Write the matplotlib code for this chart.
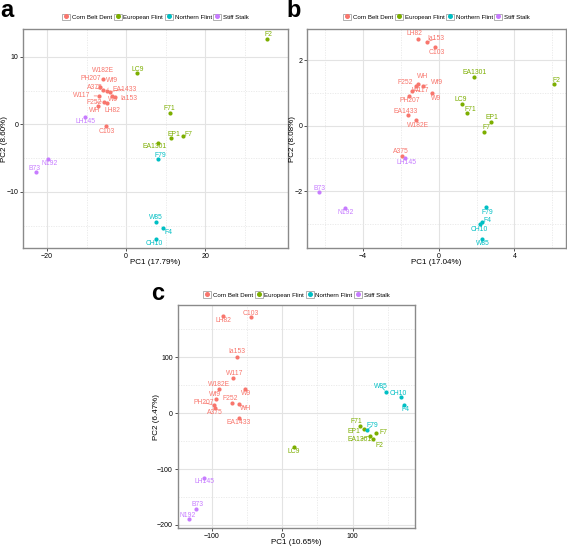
import matplotlib
matplotlib.use("Agg")
import matplotlib.pyplot as plt
from matplotlib.lines import Line2D
from matplotlib.patches import Patch
from matplotlib.ticker import FixedLocator, FuncFormatter
from matplotlib.transforms import blended_transform_factory

plt.rcParams['font.family'] = ['Liberation Sans', 'DejaVu Sans']

# ---------------- data ----------------
groups_order = ['Corn Belt Dent', 'European Flint', 'Northern Flint', 'Stiff Stalk']
colors = ['#F8766D', '#7CAE00', '#00BFC4', '#C77CFF']

names = ['A375', 'C103', 'EA1433', 'F252', 'Ia153', 'LH82', 'PH207', 'W117', 'W182E', 'Wf9', 'W9', 'WH',
         'EA1301', 'EP1', 'F2', 'F7', 'F71', 'LC9',
         'CH10', 'F4', 'F79', 'W85',
         'B73', 'LH145', 'N192']
groups = ['Corn Belt Dent'] * 12 + ['European Flint'] * 6 + ['Northern Flint'] * 4 + ['Stiff Stalk'] * 3

# panel a
a_x = [-5.9, -5.0, -4.0, -5.7, -2.8, -4.8, -6.5, -6.8, -5.9, -4.85, -3.6, -7.2,
       8.0, 11.5, 35.7, 14.3, 11.0, 2.8,
       7.5, 9.4, 8.2, 7.5,
       -22.8, -10.3, -19.8]
a_y = [5.1, -0.25, 4.85, 3.35, 4.1, 3.2, 5.5, 4.2, 6.7, 5.0, 4.25, 2.7,
       -2.7, -2.07, 12.56, -1.67, 1.67, 7.54,
       -16.9, -15.4, -5.1, -14.4,
       -7.0, 1.03, -5.07]
a_xlabel = 'PC1 (17.79%)'
a_ylabel = 'PC2 (8.60%)'

# panel b
b_x = [-1.93, -0.2, -1.6, -1.2, -0.63, -1.11, -1.55, -1.4, -1.2, -0.85, -0.37, -1.11,
       1.88, 2.75, 6.12, 2.41, 1.51, 1.22,
       2.19, 2.27, 2.5, 2.31,
       -6.35, -1.78, -4.96]
b_y = [-0.92, 2.39, 0.32, 1.22, 2.55, 2.65, 0.92, 1.07, 0.17, 1.22, 1.01, 1.26,
       1.48, 0.12, 1.27, -0.2, 0.38, 0.66,
       -3.0, -2.93, -2.49, -3.47,
       -2.03, -0.97, -2.52]
b_xlabel = 'PC1 (17.04%)'
b_ylabel = 'PC2 (8.08%)'

# panel c
c_x = [-95.7, -45.0, -62.1, -71.6, -64.5, -84.8, -97.2, -70.6, -90.0, -94.8, -52.6, -61.6,
       124.2, 116.0, 129.4, 133.6, 110.9, 16.6,
       168.7, 173.5, 120.4, 147.4,
       -123.2, -111.4, -132.7]
c_y = [8.3, 172.0, -8.3, 18.5, 100.6, 173.0, 14.3, 62.5, 43.5, 24.4, 42.9, 16.0,
       -40.5, -28.6, -45.8, -35.0, -23.2, -60.0,
       28.0, 13.7, -31.0, 38.1,
       -171.4, -115.5, -189.9]
c_xlabel = 'PC1 (10.65%)'
c_ylabel = 'PC2 (6.47%)'

# ---------------- label offsets (pixels, label centre relative to point) ----------------
a_off = {'A375': (-8.3, 2), 'C103': (0, -5.3), 'EA1433': (14, 2.3), 'F252': (-9, -0.7),
         'Ia153': (14, -2), 'LH82': (5.3, -7.7), 'PH207': (-9.3, 8.3), 'W117': (-18, 0),
         'W182E': (0.7, 8.3), 'Wf9': (5, 10), 'W9': (1.7, -4.3), 'WH': (-3, -4.3),
         'EA1301': (-2.7, -4.3), 'EP1': (2, 3.7), 'F2': (1, 4.7), 'F7': (5.7, 1.3),
         'F71': (0.3, 4.3), 'LC9': (0.7, 4), 'CH10': (-1.7, -5), 'F4': (5, -3.7),
         'F79': (2, 3.7), 'W85': (0, 4), 'B73': (-1.7, 3.3), 'LH145': (0, -4), 'N192': (1.3, -5)}
b_off = {'A375': (-1.7, 4), 'C103': (2.3, -5), 'EA1433': (-2.7, 4), 'F252': (-10.7, 3.7),
         'Ia153': (9.3, 3.7), 'LH82': (-3.7, 5), 'PH207': (0, -5), 'W117': (8.7, 0),
         'W182E': (1.7, -5), 'Wf9': (14.7, 3), 'W9': (4.3, -6.3), 'WH': (4.7, 8),
         'EA1301': (0, 5), 'EP1': (1.7, 4), 'F2': (1.7, 4), 'F7': (2.3, 4.3),
         'F71': (3, 4), 'LC9': (-0.7, 4.7), 'CH10': (-0.7, -5.3), 'F4': (6, 1.7),
         'F79': (1.3, -4.7), 'W85': (0.3, -4), 'B73': (0.7, 4), 'LH145': (1.7, -5), 'N192': (0.3, -4.3)}
c_off = {'A375': (0.3, -4.3), 'C103': (0.3, 3.3), 'EA1433': (0.3, -4.7), 'F252': (-2, 4),
         'Ia153': (0, 4.7), 'LH82': (0.3, -4.7), 'PH207': (-10.7, 2.3), 'W117': (1.7, 4.7),
         'W182E': (-0.3, 4.3), 'Wf9': (-1, 4.7), 'W9': (0.3, -5), 'WH': (7, -4),
         'EA1301': (-9.7, -4), 'EP1': (-10, -2), 'F2': (5.7, -7.3), 'F7': (7, 0),
         'F71': (-4, 4.7), 'LC9': (0, -4.7), 'CH10': (-2.3, 3.7), 'F4': (1.3, -4),
         'F79': (5.3, 5), 'W85': (-4.7, 5.3), 'B73': (1.7, 4.3), 'LH145': (0.3, -4), 'N192': (-1.3, 4.3)}

W, H = 567, 547
fig = plt.figure(figsize=(W / 100, H / 100), dpi=100)
fig.patch.set_facecolor('white')


def fr(l, t, r, b):
    return [l / W, 1 - b / H, (r - l) / W, (b - t) / H]


def fmt(v, pos):
    if abs(v - round(v)) < 1e-9:
        v = int(round(v))
    return str(v).replace('-', '\u2212')


def panel(box, xs, ys, offs, xlim, ylim, xt, yt, xm, ym, xlabel, ylabel, ylab_right, leg_cy):
    l, t, r, b = box
    ax = fig.add_axes(fr(l, t, r, b))
    ax.set_xlim(*xlim)
    ax.set_ylim(*ylim)
    ax.xaxis.set_major_locator(FixedLocator(xt))
    ax.yaxis.set_major_locator(FixedLocator(yt))
    ax.xaxis.set_minor_locator(FixedLocator(xm))
    ax.yaxis.set_minor_locator(FixedLocator(ym))
    ax.xaxis.set_major_formatter(FuncFormatter(fmt))
    ax.yaxis.set_major_formatter(FuncFormatter(fmt))
    ax.grid(True, which='major', color='#e3e3e3', lw=0.8, ls='-')
    ax.grid(True, which='minor', color='#e8e8e8', lw=0.6, ls=(0, (1.5, 1.5)))
    ax.set_axisbelow(True)
    ax.tick_params(which='major', length=2, width=0.6, color='#333333', labelsize=5, pad=1.5,
                   labelcolor='black')
    ax.tick_params(which='minor', length=0)
    for s in ax.spines.values():
        s.set_color('#8a8a8a')
        s.set_linewidth(1.0)
    ax.set_xlabel(xlabel, fontsize=5.8)
    ax.set_ylabel(ylabel, fontsize=5.8)
    ax.xaxis.set_label_coords(0.5, 1 - (b + 10.5) / H,
                              transform=blended_transform_factory(ax.transAxes, fig.transFigure))
    ax.yaxis.set_label_coords(ylab_right / W, 0.5,
                              transform=blended_transform_factory(fig.transFigure, ax.transAxes))
    for g, c in zip(groups_order, colors):
        px = [x for x, gg in zip(xs, groups) if gg == g]
        py = [y for y, gg in zip(ys, groups) if gg == g]
        ax.scatter(px, py, s=9, color=c, linewidths=0, zorder=3)
    for n, g, x, y in zip(names, groups, xs, ys):
        c = colors[groups_order.index(g)]
        dx, dy = offs[n]
        far = (dx * dx + dy * dy) ** 0.5 > 7
        ap = dict(arrowstyle='-', color=c, lw=0.5, shrinkA=1, shrinkB=1.5) if far else None
        ax.annotate(n, (x, y), xytext=(dx, dy), textcoords='offset pixels', fontsize=4.9,
                    color=c, ha='center', va='center', zorder=4, arrowprops=ap)
    handles = [(Patch(facecolor='white', edgecolor='#b0b0b0', lw=0.7),
                Line2D([], [], marker='o', color=c, ls='', ms=2.6)) for c in colors]
    ax.legend(handles, groups_order, loc='center',
              bbox_to_anchor=(0.5, 1 - leg_cy / H),
              bbox_transform=blended_transform_factory(ax.transAxes, fig.transFigure),
              ncol=4, frameon=False, fontsize=4.4, handlelength=1.3, handleheight=1.3,
              handletextpad=0.3, columnspacing=0.25, borderaxespad=0, borderpad=0)
    return ax


panel((23, 29, 288, 248), a_x, a_y, a_off, (-26.1, 41), (-18.3, 14.1),
      [-20, 0, 20], [-10, 0, 10], [-10, 10, 30], [-15, -5, 5], a_xlabel, a_ylabel, 8.5, 17)
panel((307.3, 29, 566, 248), b_x, b_y, b_off, (-6.95, 6.73), (-3.73, 2.95),
      [-4, 0, 4], [-2, 0, 2], [-6, -2, 2, 6], [-3, -1, 1], b_xlabel, b_ylabel, 295.5, 17)
panel((177.7, 305, 415, 528.3), c_x, c_y, c_off, (-148.8, 188.8), (-205.9, 192.9),
      [-100, 0, 100], [-200, -100, 0, 100], [-50, 50, 150], [-150, -50, 50, 150],
      c_xlabel, c_ylabel, 159.5, 294.7)

for lx, ly, t in [(0, 16.7, 'a'), (286, 16.7, 'b'), (151, 300, 'c')]:
    fig.text(lx / W, 1 - ly / H, t, fontsize=17, fontweight='bold', va='baseline', ha='left')

fig.savefig('out.png', dpi=100)
